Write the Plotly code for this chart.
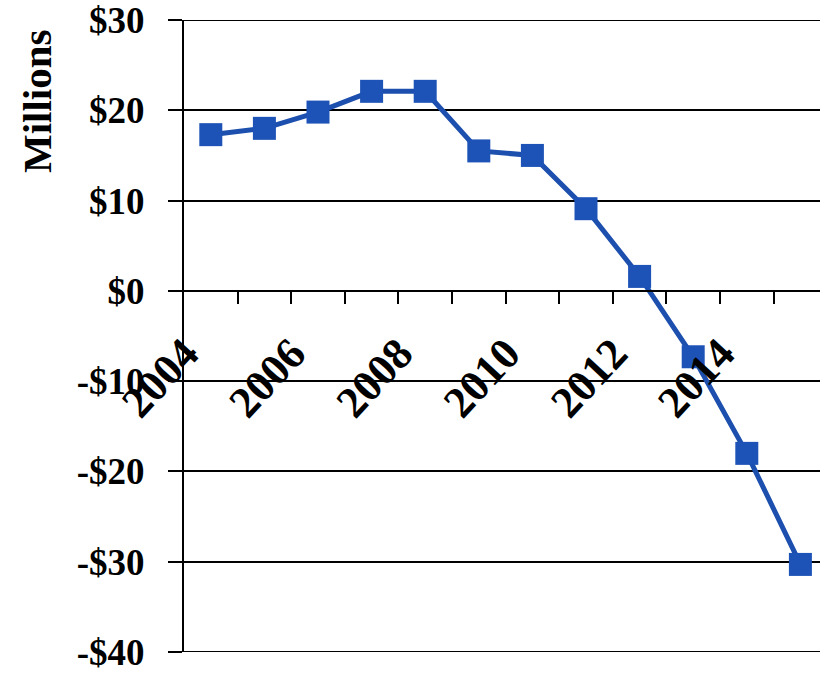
import plotly.graph_objects as go

# Annual balance, in millions of dollars
years = [2004, 2005, 2006, 2007, 2008, 2009, 2010, 2011, 2012, 2013, 2014, 2015]
balance = [17.3, 18.0, 19.8, 22.1, 22.1, 15.5, 15.0, 9.1, 1.6, -7.3, -18.0, -30.3]

# Axis ticks
label_years = [2004, 2006, 2008, 2010, 2012, 2014]
boundary_ticks = [2004.5, 2005.5, 2006.5, 2007.5, 2008.5, 2009.5,
                  2010.5, 2011.5, 2012.5, 2013.5, 2014.5]
y_vals = [-40, -30, -20, -10, 0, 10, 20, 30]
y_text = ["-$40", "-$30", "-$20", "-$10", "$0", "$10", "$20", "$30"]

W, H = 820, 674
ML, MR, MT, MB = 184, 0, 20, 22
plot_w = W - ML - MR
plot_h = H - MT - MB
unit_px = 53.6  # one year of width
x_lo = 2003.5
x_hi = x_lo + plot_w / unit_px

y_lo, y_hi = y_vals[0], y_vals[-1]

serif = "Liberation Serif, Times New Roman, serif"

fig = go.Figure(
    go.Scatter(
        x=years,
        y=balance,
        mode="lines+markers",
        line=dict(color="#1c4fae", width=5),
        marker=dict(symbol="square", size=23, color="#1d52b6"),
        cliponaxis=False,
    )
)

fig.update_layout(
    width=W,
    height=H,
    margin=dict(l=ML, r=MR, t=MT, b=MB),
    paper_bgcolor="white",
    plot_bgcolor="white",
    showlegend=False,
    font=dict(family=serif, color="black", size=38, weight="bold"),
)

fig.update_yaxes(
    range=[y_lo, y_hi],
    tickmode="array",
    tickvals=y_vals,
    ticktext=y_text,
    ticks="outside",
    ticklen=14,
    tickwidth=2,
    tickcolor="black",
    ticklabelstandoff=16,
    ticklabeloverflow="allow",
    tickfont=dict(family=serif, size=37, weight="bold", color="black"),
    showgrid=True,
    gridcolor="black",
    gridwidth=2,
    zeroline=False,
    showline=True,
    linecolor="black",
    linewidth=2,
    automargin=False,
)

# gridlines at the two ends of the value range
for yv in (y_lo, y_hi):
    fig.add_shape(type="line", xref="paper", yref="y",
                  x0=0, x1=1, y0=yv, y1=yv,
                  line=dict(color="black", width=2), layer="below")

fig.update_xaxes(
    range=[x_lo, x_hi],
    anchor="free",
    position=(0 - y_lo) / (y_hi - y_lo),
    tickmode="array",
    tickvals=label_years,
    ticktext=[str(y) for y in label_years],
    ticks="",
    tickangle=-47,
    ticklabelstandoff=18,
    ticklabelshift=-26,
    ticklabeloverflow="allow",
    tickfont=dict(family=serif, size=44, weight="bold", color="black"),
    minor=dict(tickmode="array", tickvals=boundary_ticks, ticks="outside",
               ticklen=12, tickwidth=2, tickcolor="black", showgrid=False),
    showgrid=False,
    zeroline=False,
    showline=True,
    linecolor="black",
    linewidth=2,
    automargin=False,
)

# vertical unit caption to the left of the value labels
fig.add_annotation(
    text="Millions",
    xref="paper", yref="paper",
    x=(37 - ML) / plot_w,
    y=(H - MB - 101) / plot_h,
    xanchor="center", yanchor="middle",
    textangle=-90,
    showarrow=False,
    font=dict(family=serif, size=41, weight="bold", color="black"),
)

fig.write_html("out.html")
